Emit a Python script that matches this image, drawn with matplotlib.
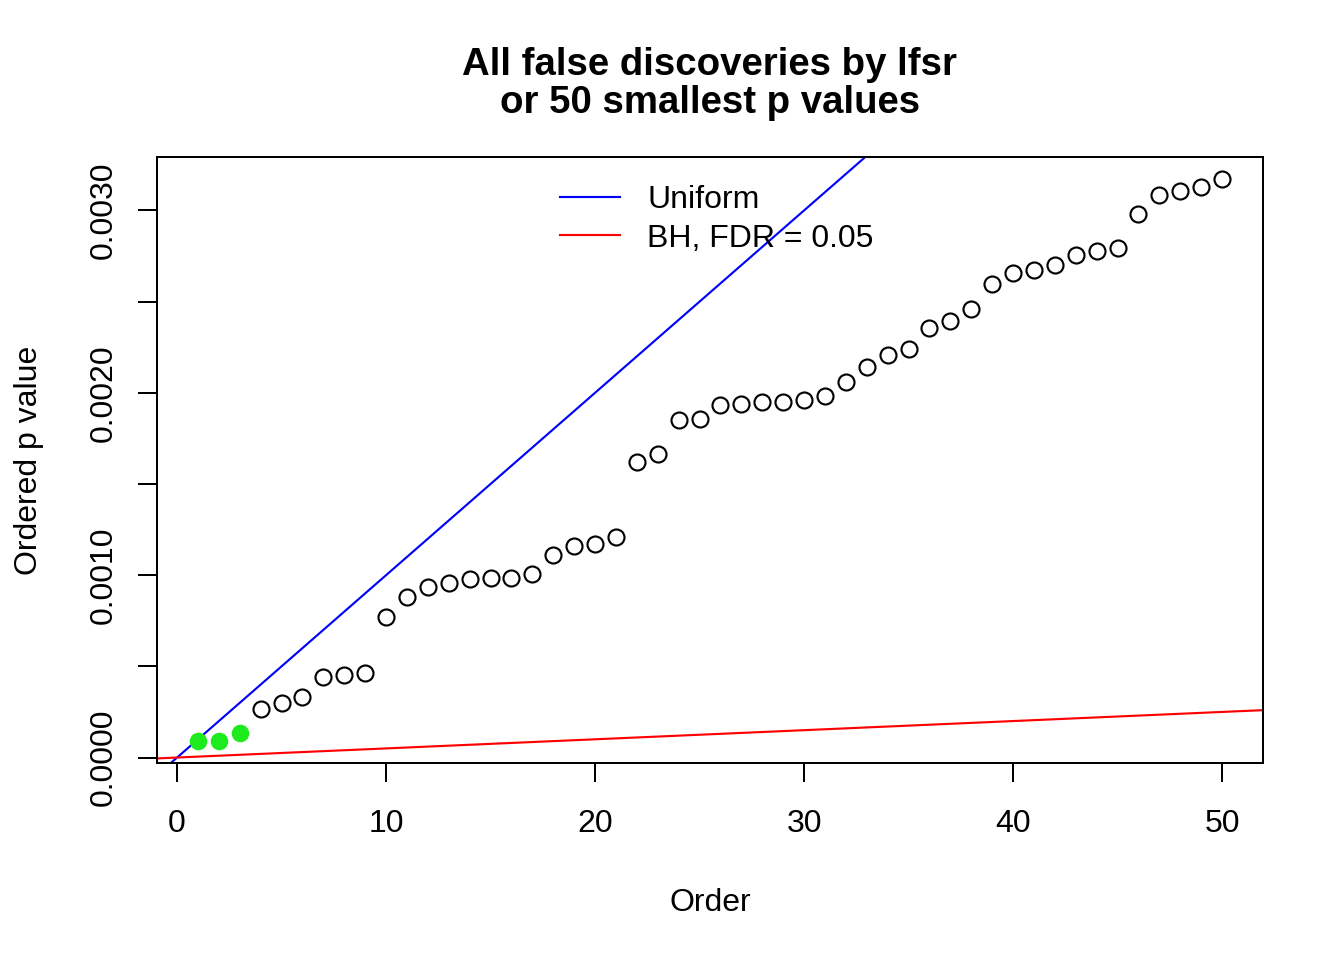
import matplotlib
matplotlib.use("Agg")
import matplotlib.pyplot as plt
from matplotlib.lines import Line2D
import numpy as np

plt.rcParams['font.family'] = ['Liberation Sans', 'DejaVu Sans']

order = list(range(1, 51))
pvals = [0.0000931, 0.0000931, 0.000137, 0.000268, 0.000301, 0.000334, 0.000443, 0.000454, 0.000465, 0.000772,
         0.000881, 0.000936, 0.000958, 0.000980, 0.000985, 0.000985, 0.001007, 0.001111, 0.001160, 0.001171,
         0.001210, 0.001620, 0.001664, 0.001850, 0.001856, 0.001932, 0.001938, 0.001949, 0.001949, 0.001960,
         0.001982, 0.002058, 0.002140, 0.002206, 0.002239, 0.002354, 0.002392, 0.002458, 0.002595, 0.002655,
         0.002671, 0.002699, 0.002754, 0.002775, 0.002792, 0.002978, 0.003082, 0.003109, 0.003126, 0.003170]
n_false_lfsr = 3
n_tests = 10000
fdr = 0.05
x_ticks = [0, 10, 20, 30, 40, 50]
y_ticks = [0.0, 0.0005, 0.0010, 0.0015, 0.0020, 0.0025, 0.0030]
y_ticklabels = ["0.0000", "", "0.0010", "", "0.0020", "", "0.0030"]

fig = plt.figure(figsize=(7, 5), dpi=192)
ax = fig.add_axes([157/1344, 1-763/960, (1263-157)/1344, (763-157)/960])

ax.axline((0, 0), slope=1/n_tests, color='blue', lw=0.8)
ax.axline((0, 0), slope=fdr/n_tests, color='red', lw=0.8)

ax.plot(order[n_false_lfsr:], pvals[n_false_lfsr:], 'o', mfc='none', mec='black', ms=6, mew=0.8)
ax.plot(order[:n_false_lfsr], pvals[:n_false_lfsr], 'o', color='#1EEB1E', mec='none', ms=6.6)

ymin, ymax = min(pvals), max(pvals)
r = ymax - ymin
ax.set_ylim(ymin - 0.04*r, ymax + 0.04*r)
ax.set_xlim(1 - 0.04*49, 50 + 0.04*49)

ax.set_xticks(x_ticks)
ax.set_xticklabels([str(t) for t in x_ticks])
ax.set_yticks(y_ticks)
ax.set_yticklabels(y_ticklabels, rotation=90, va='center')
ax.tick_params(axis='both', length=7.2, width=0.75, labelsize=12, direction='out')
ax.tick_params(axis='x', pad=10)
ax.tick_params(axis='y', pad=7)
for s in ax.spines.values():
    s.set_linewidth(0.75)

ax.set_xlabel("Order", fontsize=12, labelpad=18.5)
ax.set_ylabel("Ordered p value", fontsize=12, labelpad=17)

fig.text(710/1344, 1-84/960, "All false discoveries by lfsr\nor 50 smallest p values",
         ha='center', va='center', fontsize=14.4, fontweight='bold', linespacing=1.06)

handles = [Line2D([], [], color='blue', lw=0.8), Line2D([], [], color='red', lw=0.8)]
ax.legend(handles, ["Uniform", "BH, FDR = 0.05"], frameon=False, loc='upper left',
          bbox_to_anchor=((560-157)/1106, (763-185)/606), borderpad=0, borderaxespad=0,
          handlelength=1.875, handletextpad=0.85, labelspacing=0.27, fontsize=12)

fig.savefig("out.png", dpi=192)
